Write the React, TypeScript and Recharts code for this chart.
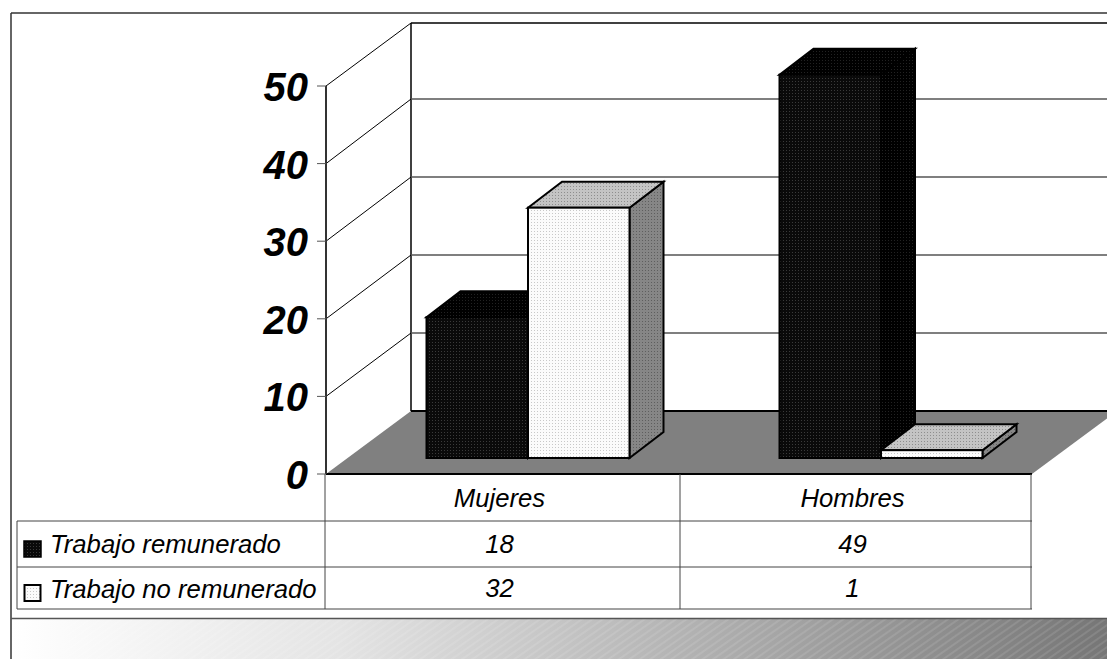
import React from 'react';
import { BarChart, Bar, XAxis, YAxis, CartesianGrid } from 'recharts';

const categories = ['Mujeres', 'Hombres'];
const paidValues = [18, 49];
const unpaidValues = [32, 1];
const paidName = 'Trabajo remunerado';
const unpaidName = 'Trabajo no remunerado';
const yTicks = [0, 10, 20, 30, 40, 50];

const data = categories.map((c, i) => ({ name: c, paid: paidValues[i], unpaid: unpaidValues[i] }));

const FONT = '"Liberation Sans", Arial, sans-serif';
const W = 1107, H = 659;
const PLOT_L = 326, PLOT_R = 1032, PLOT_T = 86, PLOT_B = 474;
const WALL_DX = 85, WALL_DY = 63;
const BAR_DX = 25.5, BAR_DY = 16, TOP_DX = 34, TOP_DY = 26;

const Wall = (p: any) => {
  const { x1, y1 } = p;
  const isTop = Math.abs(y1 - PLOT_T) < 1;
  const isFloor = Math.abs(y1 - PLOT_B) < 1;
  if (isFloor) {
    return (
      <g>
        <polygon points={`${PLOT_L},${PLOT_B} ${PLOT_R},${PLOT_B} ${PLOT_R + WALL_DX},${PLOT_B - WALL_DY} ${PLOT_L + WALL_DX},${PLOT_B - WALL_DY}`} fill="#808080" />
        <line x1={PLOT_L + WALL_DX} y1={PLOT_B - WALL_DY} x2={W} y2={PLOT_B - WALL_DY} stroke="#000" strokeWidth={2} />
        <line x1={PLOT_L} y1={PLOT_B} x2={PLOT_R} y2={PLOT_B} stroke="#000" strokeWidth={2} />
        <line x1={PLOT_L + WALL_DX} y1={PLOT_T - WALL_DY} x2={PLOT_L + WALL_DX} y2={PLOT_B - WALL_DY} stroke="#000" strokeWidth={1.5} />
      </g>
    );
  }
  const wallY = isTop ? y1 - WALL_DY : PLOT_B - WALL_DY - (PLOT_B - y1) * 1.005;
  return (
    <g>
      <line x1={x1} y1={y1} x2={x1 + WALL_DX} y2={wallY} stroke="#000" strokeWidth={1} />
      <line x1={x1 + WALL_DX} y1={wallY} x2={W} y2={wallY} stroke={isTop ? '#000' : '#555'} strokeWidth={isTop ? 1.5 : 1.4} />
    </g>
  );
};

const makeBox = (front: string, top: string, side: string) => (p: any) => {
  const x = p.x + BAR_DX, y = p.y - BAR_DY, w = p.width, h = p.height;
  return (
    <g stroke="#000" strokeWidth={2} strokeLinejoin="miter">
      <polygon points={`${x + w},${y} ${x + w + TOP_DX},${y - TOP_DY} ${x + w + TOP_DX},${y + h - TOP_DY} ${x + w},${y + h}`} fill={side} />
      <polygon points={`${x},${y} ${x + TOP_DX},${y - TOP_DY} ${x + w + TOP_DX},${y - TOP_DY} ${x + w},${y}`} fill={top} />
      <rect x={x} y={y} width={w} height={h} fill={front} />
    </g>
  );
};

const PaidBox = makeBox('url(#dk)', 'url(#dk2)', 'url(#dk2)');
const UnpaidBox = makeBox('url(#lt)', 'url(#ltTop)', 'url(#ltSide)');

const YTick = (p: any) => {
  const { y, payload } = p;
  return (
    <g>
      <line x1={PLOT_L - 9} y1={y} x2={PLOT_L} y2={y} stroke="#555" strokeWidth={1} />
      <text x={PLOT_L - 18} y={y + 15} textAnchor="end" fontFamily={FONT} fontStyle="italic" fontWeight={700} fontSize={40} fill="#000">{payload.value}</text>
    </g>
  );
};

const TABLE_ROWS = [521, 567, 609];
const TXT = { fontFamily: FONT, fontStyle: 'italic', fontSize: 25.7, fill: '#000' } as const;

const XTick = (p: any) => {
  const { x, index, payload } = p;
  const cx = x - 3;
  return (
    <g>
      {index === 0 && (
        <g>
          <line x1={PLOT_L - 1} y1={PLOT_B} x2={PLOT_L - 1} y2={TABLE_ROWS[2]} stroke="#444" />
          <line x1={680} y1={PLOT_B} x2={680} y2={TABLE_ROWS[2]} stroke="#444" />
          <line x1={PLOT_R - 1} y1={PLOT_B} x2={PLOT_R - 1} y2={TABLE_ROWS[2]} stroke="#444" />
          <line x1={17} y1={TABLE_ROWS[0]} x2={17} y2={TABLE_ROWS[2]} stroke="#444" />
          {TABLE_ROWS.map((r) => (
            <line key={r} x1={17} y1={r} x2={PLOT_R} y2={r} stroke="#444" />
          ))}
          <rect x={24} y={541} width={17} height={16} fill="url(#dk)" stroke="#000" strokeWidth={1.5} />
          <rect x={24.5} y={585} width={16} height={16} fill="url(#lt)" stroke="#000" strokeWidth={2} />
          <text x={50} y={553} {...TXT}>{paidName}</text>
          <text x={50} y={598} {...TXT}>{unpaidName}</text>
        </g>
      )}
      <text x={cx} y={507} textAnchor="middle" {...TXT}>{payload.value}</text>
      <text x={cx} y={553} textAnchor="middle" {...TXT}>{paidValues[index]}</text>
      <text x={cx} y={597} textAnchor="middle" {...TXT}>{unpaidValues[index]}</text>
    </g>
  );
};

export default function App() {
  return (
    <div style={{ position: 'absolute', left: 0, top: 0, width: W, height: H, overflow: 'hidden', background: '#fff' }}>
      <svg width={W} height={H} style={{ position: 'absolute', left: 0, top: 0 }}>
        <defs>
          <pattern id="dk" width="3" height="3" patternUnits="userSpaceOnUse">
            <rect width="3" height="3" fill="#0a0a0a" />
            <rect width="1" height="1" fill="#3a3a3a" />
          </pattern>
          <pattern id="dk2" width="3" height="3" patternUnits="userSpaceOnUse">
            <rect width="3" height="3" fill="#000" />
            <rect width="1" height="1" fill="#222" />
          </pattern>
          <pattern id="lt" width="3" height="3" patternUnits="userSpaceOnUse">
            <rect width="3" height="3" fill="#fbfbfb" />
            <rect width="1" height="1" fill="#c8c8c8" />
          </pattern>
          <pattern id="ltTop" width="3" height="3" patternUnits="userSpaceOnUse">
            <rect width="3" height="3" fill="#c4c4c4" />
            <rect width="1" height="1" fill="#8e8e8e" />
          </pattern>
          <pattern id="ltSide" width="3" height="3" patternUnits="userSpaceOnUse">
            <rect width="3" height="3" fill="#868686" />
            <rect width="1" height="1" fill="#5e5e5e" />
          </pattern>
          <pattern id="hatch" width="6" height="6" patternUnits="userSpaceOnUse" patternTransform="rotate(-35)">
            <rect width="6" height="2" fill="#fff" fillOpacity="0.1" />
          </pattern>
          <linearGradient id="strip" x1="0" x2="1" y1="0" y2="0">
            <stop offset="0" stopColor="#ffffff" />
            <stop offset="0.3" stopColor="#e4e4e4" />
            <stop offset="1" stopColor="#767676" />
          </linearGradient>
        </defs>
        <rect x={11} y={619} width={W - 11} height={40} fill="url(#strip)" />
        <rect x={11} y={619} width={W - 11} height={40} fill="url(#hatch)" />
        <line x1={11} y1={13} x2={W} y2={13} stroke="#333" strokeWidth={1.5} />
        <line x1={11} y1={13} x2={11} y2={H} stroke="#333" strokeWidth={1.5} />
        <line x1={11} y1={618.5} x2={W} y2={618.5} stroke="#555" strokeWidth={1.5} />
      </svg>
      <div style={{ position: 'absolute', left: 0, top: 0 }}>
        <BarChart
          width={W}
          height={H}
          data={data}
          margin={{ top: PLOT_T, right: W - PLOT_R, bottom: 0, left: 0 }}
          barGap={0}
          barSize={101.5}
        >
          <CartesianGrid horizontal={Wall as any} vertical={false} stroke="none" />
          <XAxis dataKey="name" height={H - PLOT_B} interval={0} axisLine={false} tickLine={false} tick={XTick as any} />
          <YAxis width={PLOT_L} domain={[0, 50]} allowDataOverflow ticks={yTicks} interval={0} axisLine={{ stroke: '#333', strokeWidth: 2 }} tickLine={false} tick={YTick as any} />
          <YAxis yAxisId="bars" hide domain={[0, 49.6]} />
          <Bar yAxisId="bars" dataKey="paid" name={paidName} isAnimationActive={false} shape={PaidBox as any} />
          <Bar yAxisId="bars" dataKey="unpaid" name={unpaidName} isAnimationActive={false} shape={UnpaidBox as any} />
        </BarChart>
      </div>
    </div>
  );
}
